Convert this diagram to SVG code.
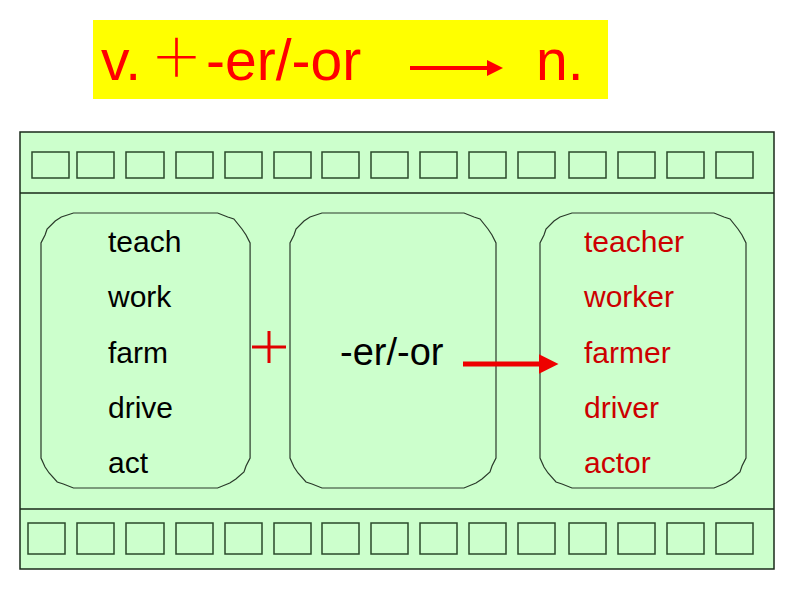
<svg xmlns="http://www.w3.org/2000/svg" width="794" height="596" viewBox="0 0 794 596">
<style>
.sq{fill:none;stroke:#2a4a2a;stroke-width:1.5}
.box{fill:#ccffcc;stroke:#2a3a2a;stroke-width:1.2}
.w{font-family:"Liberation Sans",Arial,sans-serif;font-size:30px}
.blk{fill:#000}
.red{fill:#cc0000}
.title{font-family:"Liberation Sans",Arial,sans-serif;font-size:57px;fill:#ff0000}
</style>
<defs>
<path id="plaque" d="M32,0 H174 L184,4 L190,6 L198,16 L202,22 L206,30 V245 L202,253 L200,259 L192,266 L186,270 L174,275 H32 L22,271 L16,269 L8,260 L4,254 L0,245 V30 L4,22 L6,16 L14,8 L20,4 Z"/>
<marker id="ah" markerWidth="4" markerHeight="4" refX="0.5" refY="2" orient="auto" markerUnits="strokeWidth">
<path d="M0,0 L4,2 L0,4 Z" fill="#ee0000"/>
</marker>
<marker id="ah2" markerWidth="4" markerHeight="4" refX="0.5" refY="2" orient="auto" markerUnits="strokeWidth">
<path d="M0,0 L4,2 L0,4 Z" fill="#ff0000"/>
</marker>
</defs>
<rect width="794" height="596" fill="#fff"/>
<g id="title">
<rect x="93" y="20" width="515" height="79" fill="#ffff00"/>
<text class="title" x="101" y="80">v.</text>
<text x="176.5" y="77" text-anchor="middle" font-family="Noto Sans CJK SC,sans-serif" font-size="52" font-weight="300" fill="#ff0000">＋</text>
<text class="title" x="206" y="80">-er/-or</text>
<text class="title" x="536" y="80">n.</text>
</g>
<g id="panel">
<rect x="20" y="132" width="754" height="437" fill="#ccffcc" stroke="#1a2a1a" stroke-width="1.5"/>
<line x1="20" y1="193" x2="774" y2="193" stroke="#1a2a1a" stroke-width="1.5"/>
<line x1="20" y1="509" x2="774" y2="509" stroke="#1a2a1a" stroke-width="1.5"/>
<g id="filmTop">
<rect class="sq" x="32" y="152" width="37" height="26"/>
<rect class="sq" x="77" y="152" width="37" height="26"/>
<rect class="sq" x="126" y="152" width="38" height="26"/>
<rect class="sq" x="176" y="152" width="37" height="26"/>
<rect class="sq" x="225" y="152" width="37" height="26"/>
<rect class="sq" x="274" y="152" width="37" height="26"/>
<rect class="sq" x="322" y="152" width="37" height="26"/>
<rect class="sq" x="371" y="152" width="37" height="26"/>
<rect class="sq" x="420" y="152" width="37" height="26"/>
<rect class="sq" x="469" y="152" width="37" height="26"/>
<rect class="sq" x="518" y="152" width="37" height="26"/>
<rect class="sq" x="569" y="152" width="37" height="26"/>
<rect class="sq" x="618" y="152" width="37" height="26"/>
<rect class="sq" x="667" y="152" width="37" height="26"/>
<rect class="sq" x="716" y="152" width="37" height="26"/>
</g>
<g id="filmBottom">
<rect class="sq" x="28" y="523" width="37" height="31"/>
<rect class="sq" x="77" y="523" width="37" height="31"/>
<rect class="sq" x="126" y="523" width="38" height="31"/>
<rect class="sq" x="176" y="523" width="37" height="31"/>
<rect class="sq" x="225" y="523" width="37" height="31"/>
<rect class="sq" x="274" y="523" width="37" height="31"/>
<rect class="sq" x="322" y="523" width="37" height="31"/>
<rect class="sq" x="371" y="523" width="37" height="31"/>
<rect class="sq" x="420" y="523" width="37" height="31"/>
<rect class="sq" x="469" y="523" width="37" height="31"/>
<rect class="sq" x="518" y="523" width="37" height="31"/>
<rect class="sq" x="569" y="523" width="37" height="31"/>
<rect class="sq" x="618" y="523" width="37" height="31"/>
<rect class="sq" x="667" y="523" width="37" height="31"/>
<rect class="sq" x="716" y="523" width="37" height="31"/>
</g>
</g>
<g id="verbs">
<use href="#plaque" class="box" transform="translate(41,213) scale(1.015,1)"/>
<text class="w blk" x="108" y="252">teach</text>
<text class="w blk" x="108" y="307">work</text>
<text class="w blk" x="108" y="363">farm</text>
<text class="w blk" x="108" y="418">drive</text>
<text class="w blk" x="108" y="473">act</text>
</g>
<g id="suffix">
<use href="#plaque" class="box" transform="translate(290,213)"/>
<text x="340" y="365" font-family="Liberation Sans,Arial,sans-serif" font-size="38" fill="#000">-er/-or</text>
</g>
<g id="nouns">
<use href="#plaque" class="box" transform="translate(540,213)"/>
<text class="w red" x="584" y="252">teacher</text>
<text class="w red" x="584" y="307">worker</text>
<text class="w red" x="584" y="363">farmer</text>
<text class="w red" x="584" y="418">driver</text>
<text class="w red" x="584" y="473">actor</text>
</g>
<g id="connectors">
<path d="M252,347 H286 M269,331 V363" stroke="#e00000" stroke-width="3" fill="none"/>
<line x1="463" y1="364" x2="541" y2="364" stroke="#ee0000" stroke-width="5" marker-end="url(#ah)"/>
<line x1="410" y1="68" x2="489" y2="68" stroke="#ff0000" stroke-width="4" marker-end="url(#ah2)"/>
</g>
</svg>
